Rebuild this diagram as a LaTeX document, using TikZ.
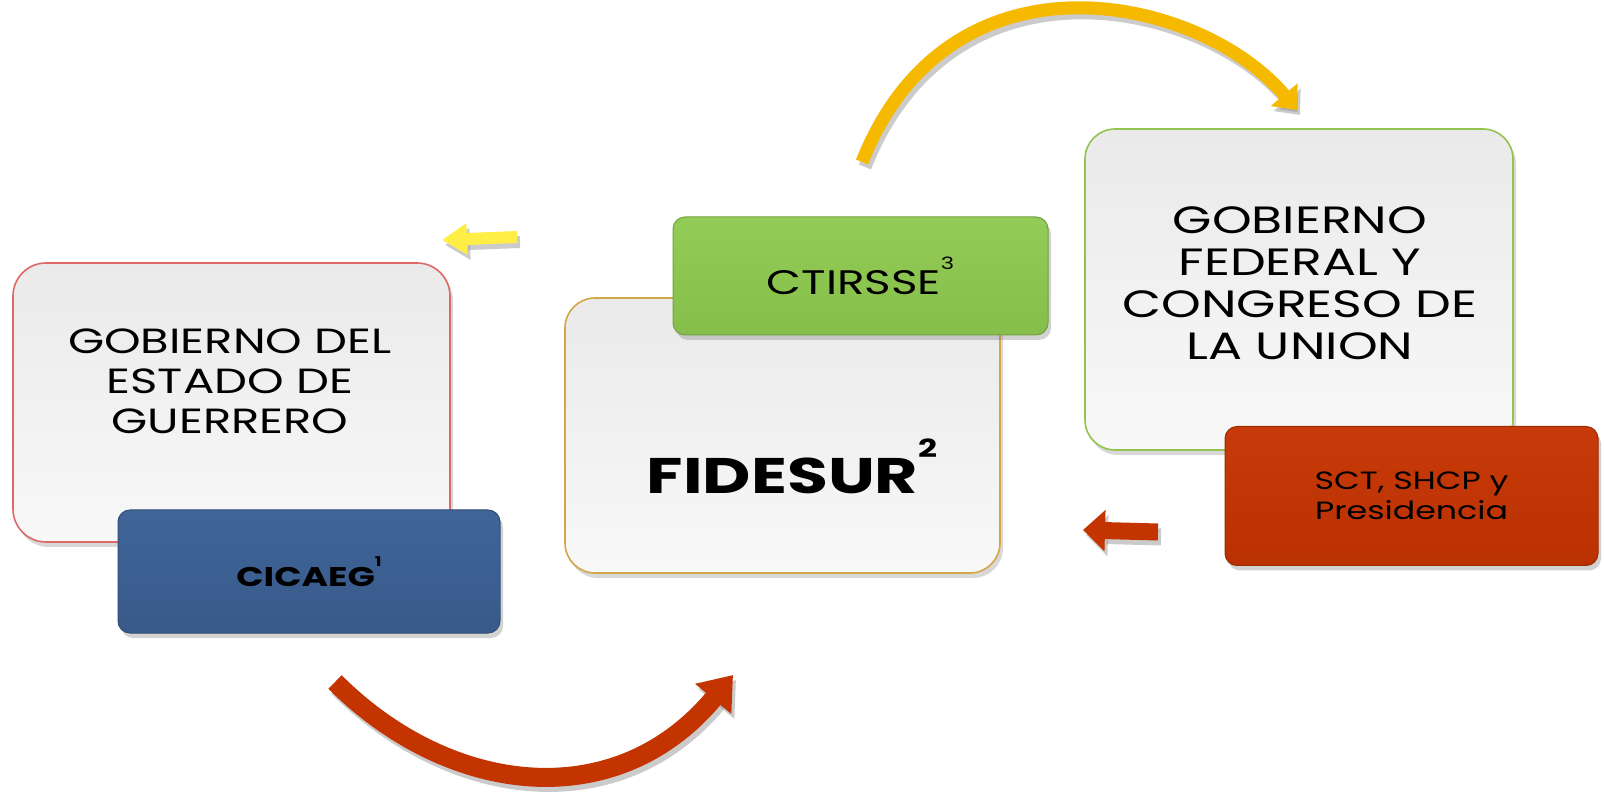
\documentclass[tikz,border=0pt]{standalone}
\usepackage{fontspec}
\setmainfont{Poppins}[FakeStretch=1.33]
\usepackage{graphicx}
\usepackage{tikz}
\usetikzlibrary{
shapes,
arrows.meta,
positioning,
shadows,
calc
}
\definecolor{boxgray}{RGB}{234,234,234}
\definecolor{boxlight}{RGB}{248,248,248}
\definecolor{edgered}{RGB}{222,104,104}
\definecolor{edgegold}{RGB}{212,166,70}
\definecolor{edgegreen}{RGB}{146,196,80}
\definecolor{cicaegblue}{RGB}{59,96,148}
\definecolor{ctirgreen}{RGB}{143,202,80}
\definecolor{sctred}{RGB}{198,52,2}
\definecolor{arcgold}{RGB}{245,186,0}
\definecolor{arcred}{RGB}{196,52,0}
\definecolor{paleyellow}{RGB}{255,238,70}
\newcommand{\hsup}[1]{\raisebox{0.72em}{\scalebox{0.5}{#1}}}

\begin{document}
\begin{tikzpicture}[x=0.5pt,y=-0.5pt,
  bigbox/.style={rectangle,rounded corners=15pt,line width=0.8pt,
    top color=boxgray,bottom color=boxlight,
    drop shadow={shadow xshift=1.5pt,shadow yshift=-2.5pt,opacity=0.3}},
  colbox/.style={rectangle,rounded corners=6pt,draw=#1!80!black,line width=0.5pt,
    top color=#1!97!white,bottom color=#1!94!black,
    drop shadow={shadow xshift=1.5pt,shadow yshift=-2.5pt,opacity=0.35}},
  arcshade/.style={draw=black!45,opacity=0.45,transform canvas={shift={(1.5pt,-2.5pt)}}},
  boxtext/.style={align=center,text=black}]
  \fill[white] (0,0) rectangle (1604,795);
  \useasboundingbox (0,0) rectangle (1604,795);

  % left: state government
  \node[bigbox,draw=edgered,rounded corners=16.5pt,minimum width=218.5pt,minimum height=139.5pt]
    (estado) at (231.5,402.5) {};
  \node[boxtext,font=\fontsize{17.5}{20}\selectfont] (estadotxt) at (230,381)
    {GOBIERNO DEL\\ESTADO DE\\GUERRERO};
  \node[colbox=cicaegblue,minimum width=191pt,minimum height=61.5pt,
    font=\bfseries\fontsize{13.5}{16}\selectfont] (cicaeg) at (309,571.5) {CICAEG\hsup{1}};

  % middle: fidesur
  \node[bigbox,draw=edgegold,minimum width=217.5pt,minimum height=137.5pt]
    (fidesur) at (782.5,435.5) {};
  \node[boxtext,font=\bfseries\fontsize{25}{28}\selectfont] (fidesurtxt) at (792,466)
    {FIDESUR\hsup{2}};
  \node[colbox=ctirgreen,minimum width=187.5pt,minimum height=59pt,
    font=\fontsize{17}{20}\selectfont] (ctirsse) at (860.5,276) {CTIRSSE\hsup{3}};

  % right: federal government
  \node[bigbox,draw=edgegreen,minimum width=214pt,minimum height=160.5pt]
    (federal) at (1299,289.5) {};
  \node[boxtext,font=\fontsize{19}{21}\selectfont] (federaltxt) at (1300,283)
    {GOBIERNO\\FEDERAL Y\\CONGRESO DE\\LA UNION};
  \node[colbox=sctred,minimum width=186.5pt,minimum height=69.5pt,
    font=\fontsize{12.5}{15}\selectfont,align=center] (sct) at (1411.5,496)
    {SCT, SHCP y\\Presidencia};

  % arrows
  \coordinate (topstart) at (862,162);
  \coordinate (topend) at (1297,110);
  \coordinate (botstart) at (335,682);
  \coordinate (botend) at (733,675);
  \coordinate (ylwtail) at (517,237);
  \coordinate (ylwtip) at (442,240);
  \coordinate (redtail) at (1158,532);
  \coordinate (redtip) at (1083,530);

  \draw[arcshade,line width=6.5pt,-{Triangle[length=10pt,width=17pt]}]
    (topstart) .. controls (950,-60) and (1200,-5) .. (topend);
  \draw[arcgold,line width=6.5pt,-{Triangle[length=10pt,width=17pt]}]
    (topstart) .. controls (950,-60) and (1200,-5) .. (topend);

  \draw[arcshade,line width=9.5pt,-{Triangle[length=15.5pt,width=22.5pt]}]
    (botstart) .. controls (449,796) and (616,816) .. (botend);
  \draw[arcred,line width=9.5pt,-{Triangle[length=15.5pt,width=22.5pt]}]
    (botstart) .. controls (449,796) and (616,816) .. (botend);

  \draw[arcshade,line width=6pt,-{Triangle[length=12.5pt,width=15pt]}] (ylwtail) -- (ylwtip);
  \draw[paleyellow,line width=6pt,-{Triangle[length=12.5pt,width=15pt]}] (ylwtail) -- (ylwtip);

  \draw[arcshade,line width=8.5pt,-{Triangle[length=11pt,width=20pt]}] (redtail) -- (redtip);
  \draw[arcred,line width=8.5pt,-{Triangle[length=11pt,width=20pt]}] (redtail) -- (redtip);
\end{tikzpicture}
\end{document}
